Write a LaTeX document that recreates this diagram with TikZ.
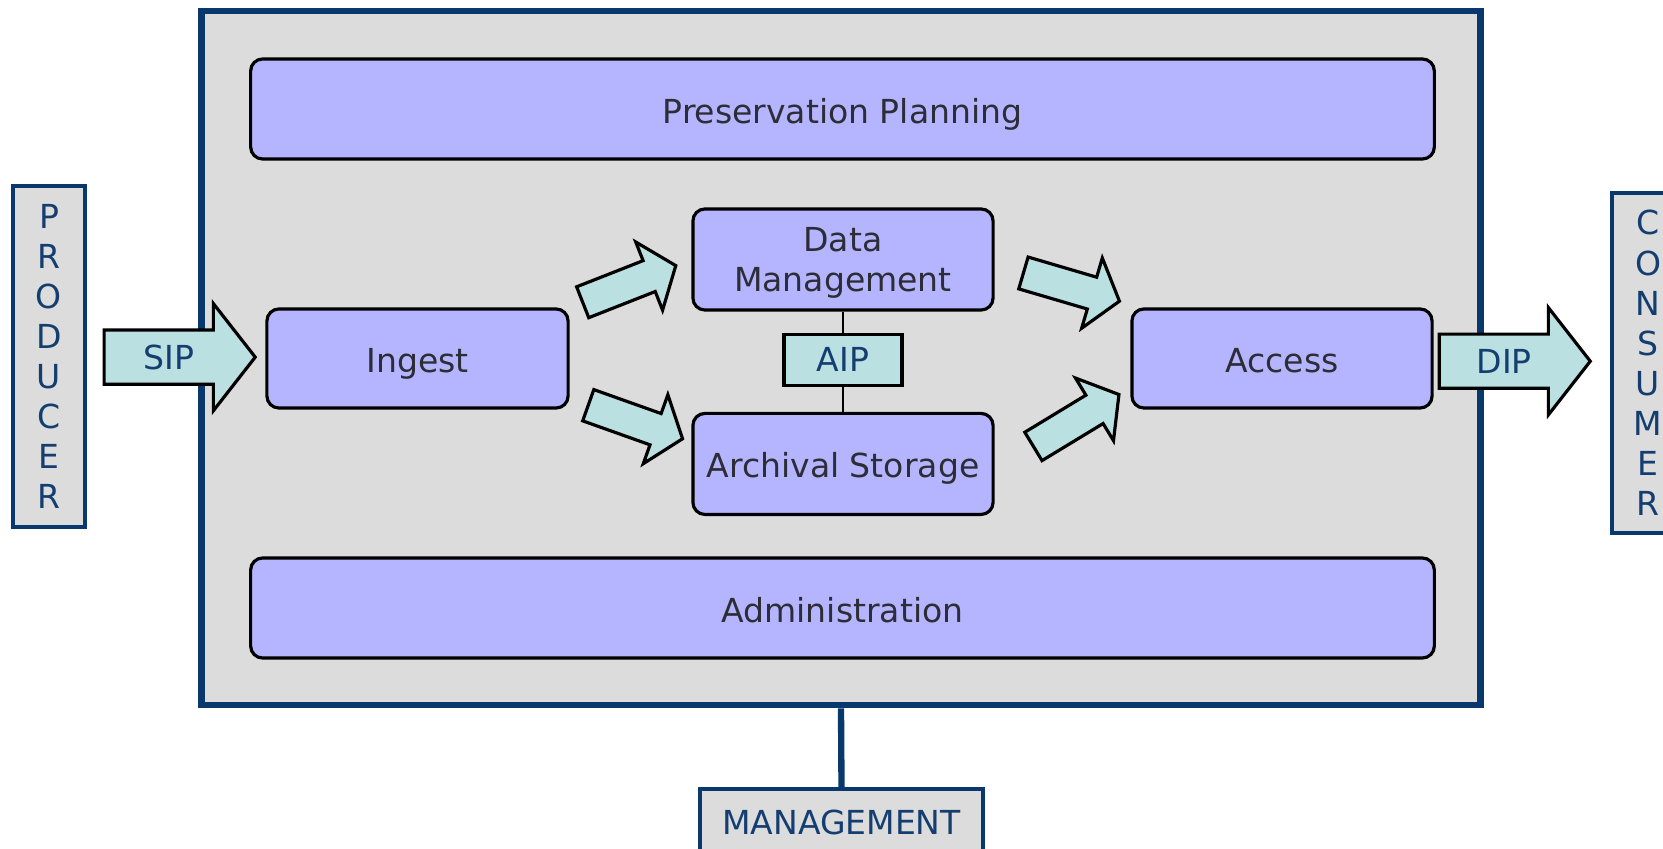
\documentclass[tikz,border=0pt]{standalone}
\usepackage{fontspec}
\setmainfont{DejaVu Sans}
\usetikzlibrary{shapes.arrows,positioning}

\definecolor{boxgray}{RGB}{220,220,220}
\definecolor{oaisblue}{RGB}{8,56,108}
\definecolor{oaislav}{RGB}{180,180,255}
\definecolor{oaisaqua}{RGB}{186,224,226}
\definecolor{textgray}{RGB}{45,45,55}
\definecolor{labelblue}{RGB}{20,62,112}

\begin{document}
\begin{tikzpicture}[x=0.01cm, y=-0.01cm,
    font=\fontsize{9.4pt}{11.4pt}\selectfont,
    funcbox/.style={rectangle, rounded corners=0.12cm, draw=black, line width=0.9pt, fill=oaislav, text=textgray, minimum width=3cm, minimum height=1cm, text depth=0pt, align=center},
    func/.style={funcbox, text height=0.28cm},
    actor/.style={rectangle, draw=oaisblue, line width=1.2pt, fill=boxgray, text=labelblue, align=center},
    bigarr/.style={single arrow, draw=black, line width=0.9pt, fill=oaisaqua, single arrow tip angle=104, inner xsep=0pt, inner ysep=0.15cm, minimum height=1cm, single arrow head extend=0.2cm},
    iparr/.style={bigarr, text=labelblue, text height=0.24cm, text depth=0pt, inner ysep=0.135cm, minimum height=1.51cm, single arrow head extend=0.265cm}]
    \useasboundingbox (0,0) rectangle (1663,849);
    \clip (0,0) rectangle (1663,849);

                    \node (oais) [rectangle, draw=oaisblue, line width=1.8pt, fill=boxgray, minimum width=12.78cm, minimum height=6.94cm] at (841,358) {};
                    \node (pp) [func, minimum width=11.83cm] at (842.5,109) {
                    Preservation Planning};
                    \node (adm) [func, minimum width=11.83cm] at (842.5,608) {
                    Administration};
                    \node (ing) [func, minimum width=3.01cm, minimum height=0.99cm] at (417.5,358.5) {
                    Ingest};
                    \node (dm) [funcbox, minimum height=1.01cm] at (843,259.5) {
                    Data\\Management};
                    \node (aip) [rectangle, draw=black, line width=0.9pt, fill=oaisaqua, text=labelblue, minimum width=1.18cm, minimum height=0.51cm, below=0.21cm of dm] {
                    AIP};
                    \node (as) [func, minimum height=1.01cm, below=0.25cm of aip] {
                    Archival Storage};
                    \node (acc) [func, minimum height=0.99cm] at (1282,358.5) {
                    Access};
                    \node (prod) [actor, minimum width=0.72cm, minimum height=3.41cm] at (49,356.5) {
                    P\\R\\O\\D\\U\\C\\E\\R};
                    \node (cons) [actor, minimum width=0.72cm, minimum height=3.40cm] at (1648,363) {
                    C\\O\\N\\S\\U\\M\\E\\R};
                    \node (mgmt) [actor, minimum width=2.83cm, minimum height=0.66cm] at (841.5,822) {
                    MANAGEMENT};

                \draw[black, line width=0.6pt] (dm) -- (aip) (aip) -- (as);
                \draw[oaisblue, line width=1.8pt] (oais.south) -- (mgmt.north);
                \path (prod) to node [iparr, pos=0.46] {SIP} (ing);
                \path (acc) to node [iparr, pos=0.40] {DIP} (cons);
                \path (ing.north east) to node [bigarr, sloped, pos=0.44] {} (dm.west);
                \path ([yshift=0.11cm]ing.south east) to node [bigarr, sloped, pos=0.49] {} ([yshift=0.22cm]as.west);
                \path ([yshift=-0.05cm]dm.east) to node [bigarr, sloped, pos=0.52] {} ([yshift=0.03cm]acc.north west);
                \path ([yshift=-0.06cm]as.east) to node [bigarr, sloped, pos=0.56] {} ([yshift=0.22cm]acc.south west);
            \end{tikzpicture}
\end{document}
